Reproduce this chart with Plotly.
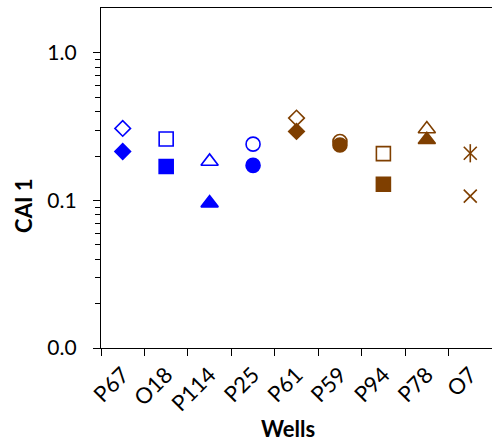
import plotly.graph_objects as go

# Wells and CAI 1 values (two measurements per well)
wells = ["P67", "O18", "P114", "P25", "P61", "P59", "P94", "P78", "O7"]
cai_open = [0.308, 0.261, 0.184, 0.241, 0.362, 0.251, 0.208, 0.305, 0.209]
cai_filled = [0.215, 0.170, 0.096, 0.173, 0.294, 0.238, 0.129, 0.258, 0.107]

BLUE = "#0000FF"
BROWN = "#7F3F00"
colors = [BLUE] * 4 + [BROWN] * 5
shapes = ["diamond", "square", "triangle-up", "circle",
          "diamond", "circle", "square", "triangle-up", "x-thin"]
sizes = {"diamond": 12, "square": 14, "triangle-up": 15, "circle": 14, "x-thin": 13}

FONT = "Lato"

fig = go.Figure()

# open markers (first measurement)
open_symbols = [s + "-open" for s in shapes]
fig.add_trace(go.Scatter(
    x=wells, y=cai_open, mode="markers", showlegend=False,
    marker=dict(symbol=open_symbols, size=[sizes[s] for s in shapes],
                color=colors, opacity=1, line=dict(color=colors, width=1.6)),
))
# vertical stroke turning the O7 cross into a star
fig.add_trace(go.Scatter(
    x=wells[-1:], y=cai_open[-1:], mode="markers", showlegend=False,
    marker=dict(symbol="line-ns-open", size=13, color=BROWN, opacity=1,
                line=dict(color=BROWN, width=1.6)),
))
# filled markers (second measurement)
filled_symbols = [s if s != "x-thin" else "x-thin-open" for s in shapes]
fig.add_trace(go.Scatter(
    x=wells, y=cai_filled, mode="markers", showlegend=False,
    marker=dict(symbol=filled_symbols, size=[sizes[s] for s in shapes],
                color=colors, opacity=1, line=dict(color=colors, width=1.6)),
))

minor_vals = [k * 0.01 for k in range(2, 10)] + [k * 0.1 for k in range(2, 10)]

fig.update_layout(
    width=492, height=441,
    margin=dict(l=101, r=0, t=8, b=93),
    paper_bgcolor="white", plot_bgcolor="white",
    font=dict(family=FONT, size=21, color="black"),
    xaxis=dict(
        type="category", range=[-0.5, 8.5], tickson="boundaries",
        showline=True, linecolor="black", linewidth=1.4, mirror=True,
        ticks="outside", ticklen=7, tickwidth=1.4, tickcolor="black",
        tickangle=-45, showgrid=False, zeroline=False,
        ticklabelstandoff=4,
        tickfont=dict(family=FONT, size=22, color="black"),
    ),
    yaxis=dict(
        type="log", range=[-2, 0.305],
        tickvals=[0.01, 0.1, 1], ticktext=["0.0", "0.1", "1.0"],
        showline=True, linecolor="black", linewidth=1.4,
        ticks="outside", ticklen=7, tickwidth=1.4, tickcolor="black",
        ticklabelstandoff=12,
        minor=dict(tickvals=minor_vals, ticks="outside", ticklen=5,
                   tickwidth=1.2, tickcolor="black", showgrid=False),
        showgrid=False, zeroline=False,
        tickfont=dict(family=FONT, size=21, color="black"),
    ),
    annotations=[
        dict(text="<b>CAI 1</b>", textangle=-90, xref="paper", yref="paper",
             x=0, y=0.418, xanchor="center", yanchor="middle", xshift=-77,
             showarrow=False, font=dict(family=FONT, size=22, color="black")),
        dict(text="<b>Wells</b>", xref="paper", yref="paper",
             x=0.478, y=0, xanchor="center", yanchor="middle", yshift=-80,
             showarrow=False, font=dict(family=FONT, size=22, color="black")),
    ],
)

fig.write_html("out.html")
